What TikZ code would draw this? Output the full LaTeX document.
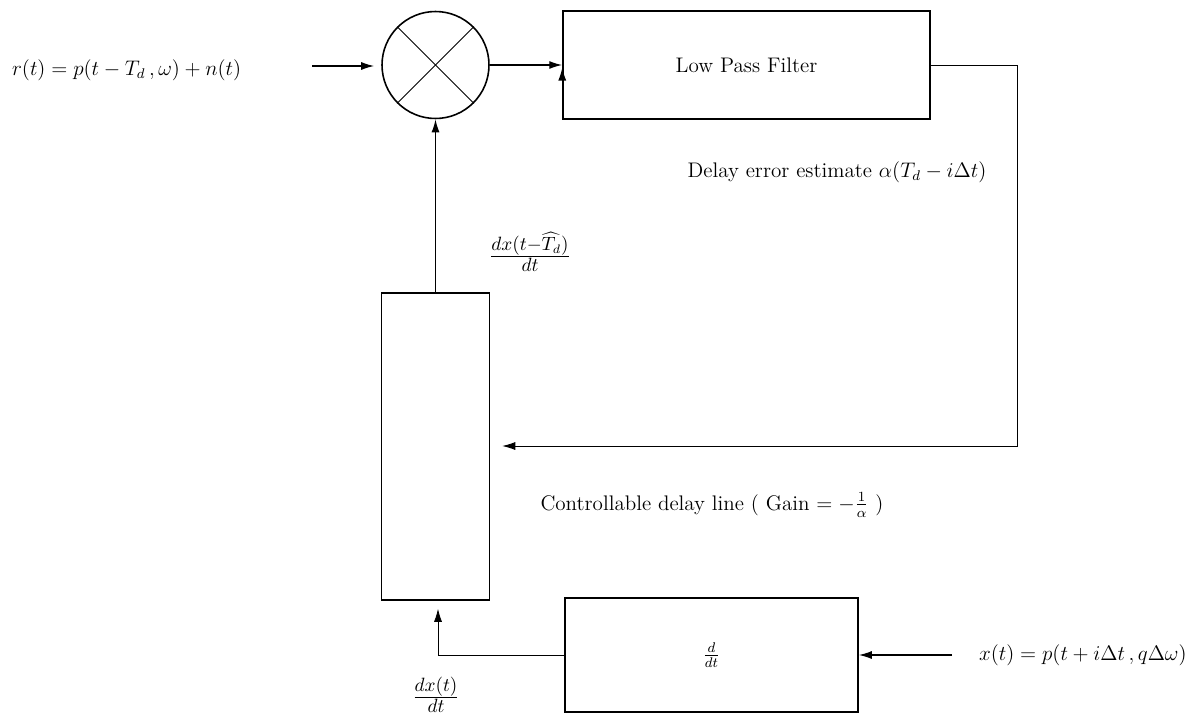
\documentclass[tikz,border=0pt]{standalone}
\usetikzlibrary{arrows.meta}
\begin{document}
\begin{tikzpicture}[x=0.02cm,y=-0.02cm,
  font=\fontsize{12}{14}\selectfont,
  box/.style={draw,line width=0.9pt,rectangle,inner sep=0pt},
  lbl/.style={inner sep=1pt},
  fraclbl/.style={inner sep=1pt,font=\fontsize{15}{17}\selectfont},
  arr/.style={-{Latex[length=2.6mm,width=1.6mm]},line width=0.8pt},
  thinline/.style={line width=0.45pt}]
\useasboundingbox (0,0) rectangle (1194,714);
% nodes
\node[draw,circle,line width=0.9pt,minimum size=2.14cm,inner sep=0pt] (mult) at (435.5,65) {};
\draw[line width=0.5pt] (mult.45) -- (mult.225);
\draw[line width=0.5pt] (mult.135) -- (mult.315);
\node[box,minimum width=7.34cm,minimum height=2.16cm] (lpf) at (746.5,65) {Low Pass Filter};
\node[box,minimum width=2.16cm,minimum height=6.14cm] (dl) at (435.5,446.5) {};
\node[box,minimum width=5.86cm,minimum height=2.28cm] (ddt) at (711.5,655) {$\frac{d}{dt}$};
% labels
\node[lbl,anchor=west] (rin) at (10,70) {$r(t) = p(t - T_d\,,\omega) + n(t)$};
\node[lbl,anchor=west] (xin) at (977,655) {$x(t) = p(t + i\Delta t\,, q\Delta\omega)$};
\node[lbl] (err) at (837,172) {Delay error estimate $\alpha(T_d - i\Delta t)$};
\node[lbl] (ctl) at (712,505) {Controllable delay line ( Gain $= -\frac{1}{\alpha}$ )};
\node[fraclbl] (dtd) at (530,252) {$\frac{dx(t-\widehat{T_d})}{dt}$};
\node[fraclbl] (dxt) at (436,695) {$\frac{dx(t)}{dt}$};
% coordinates
\coordinate (rst) at (312,66);
\coordinate (fb) at (1017,446);
\coordinate (bendx) at (438,0);
\coordinate (xst) at (952,655);
% connectors
\draw[arr] (rst) -- ([xshift=-0.14cm]mult.west |- rst);
\draw[arr] (mult.east) -- (lpf.west);
\draw[arr] (lpf.south west) -- ([yshift=-0.05cm]lpf.west);
\draw[arr] (dl.north) -- (mult.south);
\draw[arr,thinline] (lpf.east) -| (fb) -- ([xshift=0.24cm]fb -| dl.east);
\draw[arr,thinline] (ddt.west) -| ([yshift=-0.16cm]bendx |- dl.south);
\draw[arr] (xst) -- (xst -| ddt.east);
\end{tikzpicture}
\end{document}
